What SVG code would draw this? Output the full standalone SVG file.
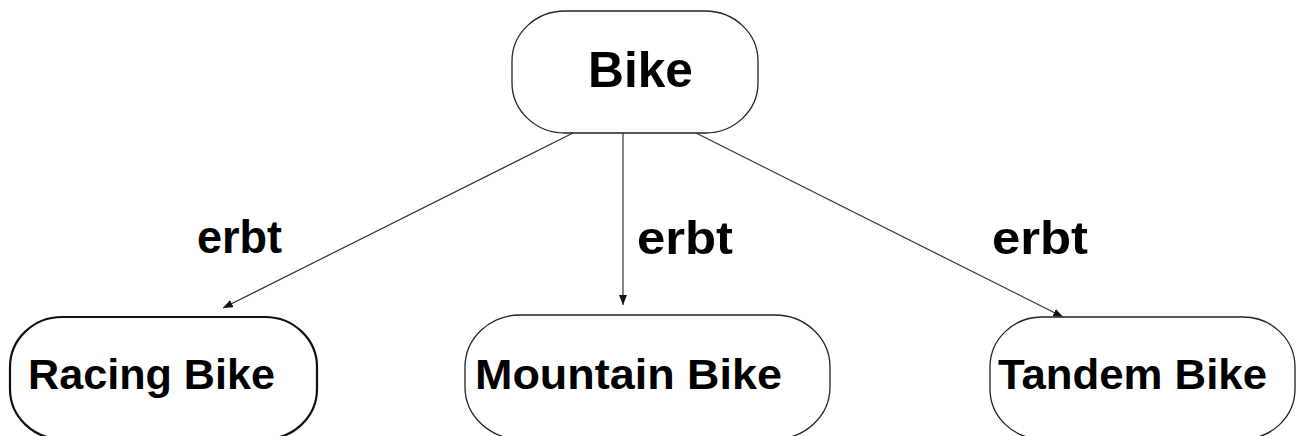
<svg xmlns="http://www.w3.org/2000/svg" width="1304" height="436" viewBox="0 0 1304 436">
  <style>
    .node { fill: #ffffff; stroke: #222222; stroke-width: 1.3; }
    .node.thick { stroke: #111111; stroke-width: 2.2; }
    .label { font-family: "Liberation Sans", Arial, sans-serif; font-weight: bold; fill: #000000; }
    .edge { stroke: #333333; stroke-width: 1.2; fill: none; marker-end: url(#head); }
  </style>
  <defs>
    <marker id="head" viewBox="0 0 10 8" refX="10" refY="4" markerWidth="10" markerHeight="8" markerUnits="userSpaceOnUse" orient="auto">
      <path d="M0,0 L10,4 L0,8 Z" fill="#111111"/>
    </marker>
  </defs>

  <g id="connectors">
    <line class="edge" x1="573" y1="133" x2="223" y2="308"/>
    <line class="edge" x1="623" y1="133" x2="623" y2="305"/>
    <line class="edge" x1="696" y1="133" x2="1063" y2="317"/>
    <text class="label" x="197" y="253" font-size="46" textLength="85" lengthAdjust="spacingAndGlyphs">erbt</text>
    <text class="label" x="637" y="254" font-size="46" textLength="96" lengthAdjust="spacingAndGlyphs">erbt</text>
    <text class="label" x="992" y="254" font-size="46" textLength="96" lengthAdjust="spacingAndGlyphs">erbt</text>
  </g>

  <g id="bike">
    <rect class="node" x="512" y="11" width="246" height="122" rx="53" ry="50"/>
    <text class="label" x="588" y="87" font-size="50" textLength="105" lengthAdjust="spacingAndGlyphs">Bike</text>
  </g>

  <g id="racing-bike">
    <rect class="node thick" x="10" y="317" width="307" height="122" rx="52" ry="50"/>
    <text class="label" x="28" y="389" font-size="42" textLength="247" lengthAdjust="spacingAndGlyphs">Racing Bike</text>
  </g>

  <g id="mountain-bike">
    <rect class="node" x="465" y="315" width="365" height="124" rx="55" ry="52"/>
    <text class="label" x="475" y="389" font-size="43" textLength="307" lengthAdjust="spacingAndGlyphs">Mountain Bike</text>
  </g>

  <g id="tandem-bike">
    <rect class="node" x="990" y="317" width="305" height="122" rx="52" ry="50"/>
    <text class="label" x="998" y="389" font-size="43" textLength="269" lengthAdjust="spacingAndGlyphs">Tandem Bike</text>
  </g>
</svg>
